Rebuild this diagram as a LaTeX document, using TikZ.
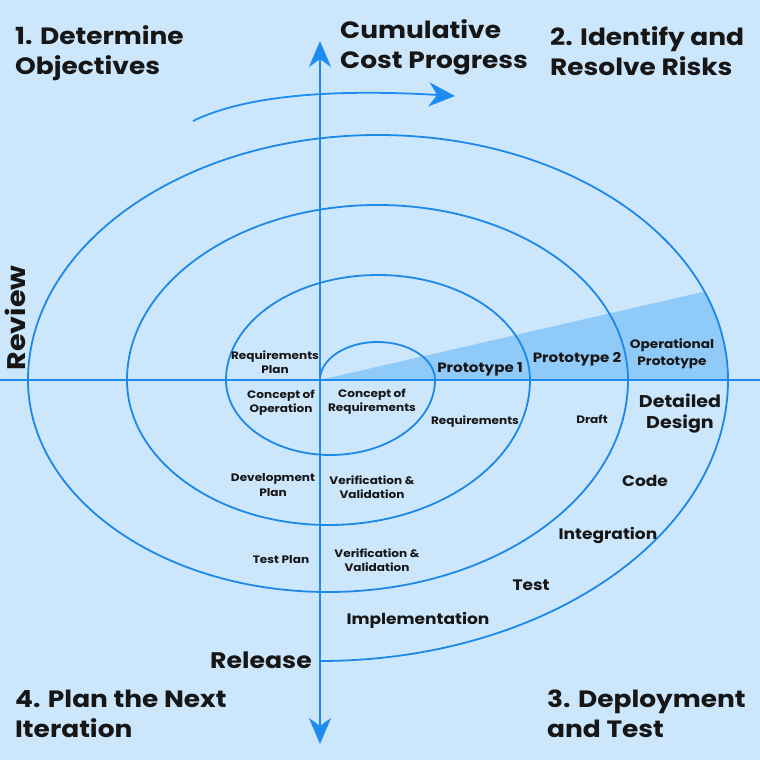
\documentclass[tikz,border=0pt]{standalone}
\usepackage{fontspec}
\setmainfont{Poppins}[FakeStretch=1.12]
\usetikzlibrary{arrows.meta}
\definecolor{bgc}{HTML}{CCE6FC}
\definecolor{linec}{HTML}{1E88E5}
\definecolor{arrc}{HTML}{1E8CEE}
\definecolor{wedgec}{HTML}{90CAF9}
\definecolor{txtc}{HTML}{161616}
\tikzset{
  spiral/.style={draw=linec, line width=1.8pt},
  axisline/.style={draw=arrc, line width=2pt, -{Stealth[length=26pt,width=22pt,inset=8pt]}},
  lblbig/.style={inner sep=0pt, text=txtc, font=\bfseries\fontsize{23.6}{30}\selectfont, align=left, anchor=west},
  lblmid/.style={inner sep=0pt, text=txtc, font=\bfseries\fontsize{15.2}{21}\selectfont, align=center},
  lblpro/.style={inner sep=0pt, text=txtc, font=\bfseries\fontsize{13.5}{17}\selectfont, align=center},
  lblsm/.style={inner sep=0pt, text=txtc, font=\bfseries\fontsize{10.8}{14.2}\selectfont, align=center}
}
\begin{document}
\begin{tikzpicture}[x=1pt,y=1pt]
\useasboundingbox (-320,-380) rectangle (440,380);
\fill[bgc] (-320,-380) rectangle (440,380);
% shaded wedge
\begin{scope}
  \clip (58,0) ellipse [x radius=350, y radius=245];
  \fill[wedgec] (0,0) -- (450,103.5) -- (450,0) -- cycle;
\end{scope}
% axes
\coordinate (xl) at (-320,0);
\coordinate (xr) at (440,0);
\coordinate (o) at (0,0);
\coordinate (yt) at (0,339);
\coordinate (yb) at (0,-364);
\draw[draw=arrc, line width=2pt] (xl) -- (xr);
\draw[axisline] (o) -- (yt);
\draw[axisline] (o) -- (yb);
% spiral
\draw[spiral] (o)
  arc[start angle=180, end angle=0, x radius=57.5, y radius=38]
  arc[start angle=0, end angle=-180, x radius=104.5, y radius=75]
  arc[start angle=180, end angle=0, x radius=152, y radius=105]
  arc[start angle=0, end angle=-180, x radius=201.5, y radius=145]
  arc[start angle=180, end angle=0, x radius=250.5, y radius=175]
  arc[start angle=0, end angle=-180, x radius=300, y radius=212]
  arc[start angle=180, end angle=0, x radius=350, y radius=245]
  arc[start angle=0, end angle=-90, x radius=408, y radius=281] coordinate (rel);
% progress arrow
\coordinate (pa) at (-127,259);
\coordinate (pb) at (135,284);
\draw[draw=arrc, line width=1.8pt, -{Stealth[length=26pt,width=24pt,inset=8pt]}] (pa) .. controls (-80,282) and (0,292) .. (pb);
% headings
\node[lblbig] (obj) at (-305,327) {1. Determine\\Objectives};
\node[lblbig] (cost) at (20,333) {Cumulative\\Cost Progress};
\node[lblbig] (risk) at (230,328.5) {2. Identify and\\Resolve Risks};
\node[lblbig] (plan) at (-305,-333.5) {4. Plan the Next\\Iteration};
\node[lblbig] (depl) at (227,-333.5) {3. Deployment\\and Test};
\node[lblbig, anchor=center, rotate=90, font=\bfseries\fontsize{25.5}{30}\selectfont] (rev) at (-305,62) {Review};
\node[lblbig, anchor=east, font=\bfseries\fontsize{22.5}{26}\selectfont] (relt) at (-8,-280) {Release};
% medium labels
\node[lblmid] (impl) at (98,-240) {Implementation};
\node[lblmid] (test) at (211,-205) {Test};
\node[lblmid] (integ) at (288,-156) {Integration};
\node[lblmid] (code) at (325,-101) {Code};
\node[lblmid, font=\bfseries\fontsize{17}{21}\selectfont] (detd) at (360,-34) {Detailed\\Design};
% prototype labels
\node[lblpro] (p1) at (160,11) {Prototype 1};
\node[lblpro] (p2) at (257,21) {Prototype 2};
\node[lblpro, font=\bfseries\fontsize{12.2}{17}\selectfont] (op) at (352,26) {Operational\\Prototype};
% small labels
\node[lblsm] (rqp) at (-45,18) {Requirements\\Plan};
\node[lblsm] (cop) at (-39,-23) {Concept of\\Operation};
\node[lblsm] (crq) at (52,-22) {Concept of\\Requirements};
\node[lblsm] (rq) at (155,-42) {Requirements};
\node[lblsm] (dr) at (272,-39) {Draft};
\node[lblsm] (dvp) at (-47,-105) {Development\\Plan};
\node[lblsm] (vv1) at (52,-107) {Verification \&\\Validation};
\node[lblsm] (tp) at (-39,-180) {Test Plan};
\node[lblsm] (vv2) at (57,-180) {Verification \&\\Validation};
\end{tikzpicture}
\end{document}
